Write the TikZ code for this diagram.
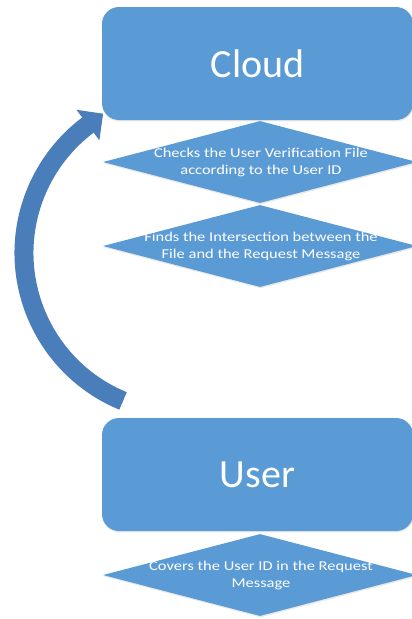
\documentclass[tikz,border=0pt]{standalone}
\usepackage{fontspec}
\setmainfont{Carlito}
\newfontfamily\widefont{Carlito}[FakeStretch=1.22]
\usetikzlibrary{shapes.geometric,arrows.meta,shadows,calc}

\definecolor{boxblue}{HTML}{5B9BD5}
\definecolor{arrowblue}{HTML}{4A7EBB}

\tikzset{
  softshadow/.style={drop shadow={opacity=0.18, shadow xshift=0.6pt, shadow yshift=-1.4pt}},
  actor/.style={shape=rectangle, rounded corners=17pt, fill=boxblue, softshadow,
    minimum width=311pt, minimum height=113pt, inner sep=0pt, text=white,
    font=\fontsize{40}{48}\selectfont},
  stepdiamond/.style={shape=diamond, fill=boxblue, softshadow,
    minimum width=314pt, minimum height=82pt, inner sep=0pt},
  steptext/.style={text=white, align=center, inner sep=0pt,
    font=\widefont\fontsize{13.5}{17}\selectfont},
  flowarrow/.style={draw=arrowblue, line width=19pt,
    -{Triangle[width=37pt, length=19pt]}}
}

\begin{document}
\begin{tikzpicture}[x=1pt, y=-1pt]
\useasboundingbox (0,0) rectangle (412,619);
\clip (0,0) rectangle (412,619);

% cloud side
\node[actor] (cloud) at (257.5,63.5) {Cloud};
\node[stepdiamond] (check) at (260,162) {};
\node[steptext] (checktext) at (261,162.5) {Checks the User Verification File\\according to the User ID};
\node[stepdiamond] (inter) at (260,246) {};
\node[steptext] (intertext) at (261,246.5) {Finds the Intersection between the\\File and the Request Message};

% user side
\node[actor] (user) at (257.5,474.5) {User};
\node[stepdiamond] (cover) at (260,575) {};
\node[steptext] (covertext) at (261,575.5) {Covers the User ID in the Request\\Message};

% curved arrow from the user up to the cloud, around a circle centred at arcc
\coordinate (arcc) at (184,253);
\coordinate (tail) at ($(arcc)+(112.4:160)$);
\draw[flowarrow]
  (tail) arc[start angle=112.4, end angle=233.1, radius=160]
  -- ++(15.2,-11.4);
\end{tikzpicture}
\end{document}
